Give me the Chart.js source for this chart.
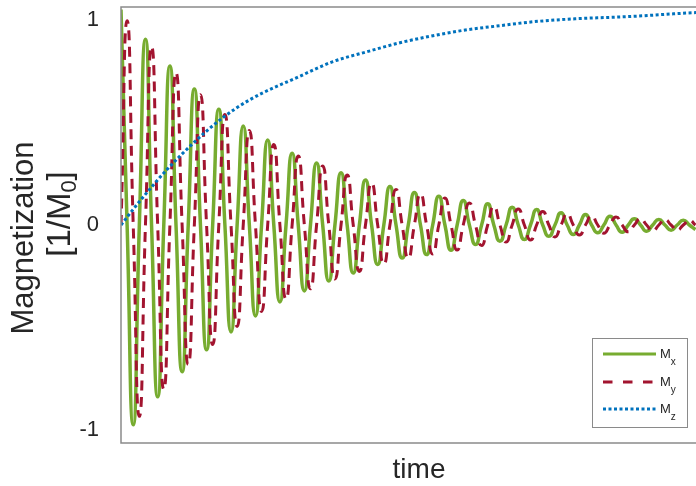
<!DOCTYPE html>
<html><head><meta charset="utf-8">
<script src="https://cdn.jsdelivr.net/npm/chart.js@4.4.1/dist/chart.umd.min.js"></script>
<style>html,body{margin:0;padding:0;background:#fff;overflow:hidden}canvas{display:block}</style>
</head><body>
<canvas id="c" width="696" height="486"></canvas>
<script>
// time in units of one precession period (quarter-period samples)
const timeQ = [0,0.25,0.5,0.75,1,1.25,1.5,1.75,2,2.25,2.5,2.75,3,3.25,3.5,3.75,4,4.25,4.5,4.75,
  5,5.25,5.5,5.75,6,6.25,6.5,6.75,7,7.25,7.5,7.75,8,8.25,8.5,8.75,9,9.25,9.5,9.75,
  10,10.25,10.5,10.75,11,11.25,11.5,11.75,12,12.25,12.5,12.75,13,13.25,13.5,13.75,14,14.25,14.5,14.75,
  15,15.25,15.5,15.75,16,16.25,16.5,16.75,17,17.25,17.5,17.75,18,18.25,18.5,18.75,19,19.25,19.5,19.75,
  20,20.25,20.5,20.75,21,21.25,21.5,21.75,22,22.25,22.5,22.75,23,23.25,23.5];
const mx = [1.05,0,-0.973,0,0.905,0,-0.837,0,0.774,0,-0.715,0,0.662,0,-0.608,0,0.564,0,-0.521,0,
  0.482,0,-0.443,0,0.414,0,-0.375,0,0.350,0,-0.321,0,0.302,0,-0.273,0,0.255,0,-0.234,0,
  0.219,0,-0.192,0,0.187,0,-0.161,0,0.158,0,-0.144,0,0.140,0,-0.123,0,0.119,0,-0.095,0,
  0.103,0,-0.079,0,0.087,0,-0.071,0,0.075,0,-0.055,0,0.060,0,-0.046,0,0.051,0,-0.038,0,
  0.043,0,-0.035,0,0.030,0,-0.030,0,0.027,0,-0.025,0,0.023,0,-0.022];
const my = [0,0.995,0,-0.932,0,0.869,0,-0.800,0,0.742,0,-0.679,0,0.635,0,-0.582,0,0.538,0,-0.494,
  0,0.460,0,-0.421,0,0.392,0,-0.360,0,0.336,0,-0.311,0,0.287,0,-0.263,0,0.243,0,-0.226,
  0,0.204,0,-0.190,0,0.173,0,-0.161,0,0.151,0,-0.141,0,0.131,0,-0.122,0,0.107,0,-0.100,
  0,0.090,0,-0.083,0,0.078,0,-0.073,0,0.066,0,-0.058,0,0.054,0,-0.049,0,0.044,0,-0.040,
  0,0.039,0,-0.033,0,0.030,0,-0.028,0,0.026,0,-0.024,0,0.022,0];
const timeZ = [0,0.49,1.06,1.88,3.11,4.17,5.28,7.32,8.67,10.06,11.41,12.76,14.15,15.50,16.85,18.65,20.70,23.39,23.6];
const mz = [0,0.075,0.158,0.27,0.416,0.523,0.611,0.725,0.796,0.844,0.888,0.922,0.951,0.971,0.990,1.005,1.015,1.034,1.035];
const yTickValues = [-1,0,1];
const legendNames = ['M','M','M'];
const legendSubs = ['x','y','z'];

const FONT = '"Liberation Sans", Arial, sans-serif';
const TXT = '#262626';
const toXY = (xs, ys) => xs.map((x, i) => ({x: x, y: ys[i]}));

const decor = {
  id: 'decor',
  afterDraw(chart) {
    const ctx = chart.ctx, a = chart.chartArea;
    ctx.save();
    ctx.strokeStyle = '#8a8a8a'; ctx.lineWidth = 1.5; ctx.setLineDash([]);
    ctx.beginPath();
    ctx.moveTo(a.right + 5, a.top); ctx.lineTo(a.left, a.top); ctx.lineTo(a.left, a.bottom); ctx.lineTo(a.right + 5, a.bottom);
    ctx.stroke();
    ctx.fillStyle = TXT; ctx.textAlign = 'center'; ctx.textBaseline = 'alphabetic';
    ctx.font = '28px ' + FONT;
    ctx.fillText('time', 419, 478);
    ctx.save();
    ctx.translate(33, 238); ctx.rotate(-Math.PI / 2);
    ctx.font = '31px ' + FONT;
    ctx.fillText('Magnetization', 0, 0);
    ctx.restore();
    ctx.save();
    ctx.translate(70, 214); ctx.rotate(-Math.PI / 2);
    ctx.textAlign = 'left';
    const big = '33px ' + FONT, small = '22px ' + FONT;
    ctx.font = big; const w1 = ctx.measureText('[1/M').width, w3 = ctx.measureText(']').width;
    ctx.font = small; const w2 = ctx.measureText('0').width;
    let x0 = -(w1 + w2 + w3) / 2;
    ctx.font = big; ctx.fillText('[1/M', x0, 0);
    ctx.font = small; ctx.fillText('0', x0 + w1, 6);
    ctx.font = big; ctx.fillText(']', x0 + w1 + w2, 0);
    ctx.restore();
    const order = [2, 1, 0];
    const rows = [354, 382, 409];
    ctx.fillStyle = '#fff'; ctx.fillRect(592, 338, 95, 89);
    ctx.strokeStyle = '#8a8a8a'; ctx.lineWidth = 1; ctx.strokeRect(592.5, 338.5, 95, 89);
    order.forEach((di, r) => {
      const ds = chart.data.datasets[di];
      ctx.strokeStyle = ds.borderColor; ctx.lineWidth = 3;
      ctx.setLineDash(r === 1 ? [9.5, 10.5] : (ds.borderDash || []));
      ctx.beginPath(); ctx.moveTo(603, rows[r]); ctx.lineTo(656, rows[r]); ctx.stroke();
      ctx.setLineDash([]);
      ctx.fillStyle = TXT; ctx.textAlign = 'left';
      ctx.font = '13px ' + FONT;
      ctx.fillText(legendNames[r], 660, rows[r] + 4);
      const wm = ctx.measureText(legendNames[r]).width;
      ctx.font = '10px ' + FONT;
      ctx.fillText(legendSubs[r], 660 + wm, rows[r] + 11);
    });
    ctx.restore();
  }
};

new Chart(document.getElementById('c').getContext('2d'), {
  type: 'line',
  data: {
    datasets: [
      {label: 'Mz', data: toXY(timeZ, mz), borderColor: '#0072BD', borderWidth: 3, borderDash: [3, 2.5],
       pointRadius: 0, cubicInterpolationMode: 'monotone', fill: false, order: 0},
      {label: 'My', data: toXY(timeQ, my), borderColor: '#A2142F', borderWidth: 3, borderDash: [10, 6.5],
       pointRadius: 0, tension: 0.58, fill: false, order: 1},
      {label: 'Mx', data: toXY(timeQ, mx), borderColor: '#77AC30', borderWidth: 3.5,
       pointRadius: 0, tension: 0.58, fill: false, order: 2}
    ]
  },
  options: {
    responsive: false, animation: false, devicePixelRatio: 1,
    layout: {padding: {top: 7, right: 0, left: 0, bottom: 0}},
    plugins: {legend: {display: false}, tooltip: {enabled: false}},
    scales: {
      x: {type: 'linear', min: 0, max: 23.52,
          grid: {display: false, drawTicks: false}, border: {display: false},
          ticks: {display: false},
          afterFit(s) { s.height = 43; s.paddingLeft = 0; s.paddingRight = 0; }},
      y: {type: 'linear', min: -1.062, max: 1.062,
          grid: {display: false, drawTicks: false}, border: {display: false},
          ticks: {font: {family: FONT, size: 22}, color: TXT, padding: 22},
          afterBuildTicks(s) { s.ticks = yTickValues.map(v => ({value: v})); },
          afterFit(s) { s.width = 121; s.paddingTop = 0; s.paddingBottom = 0; }}
    }
  },
  plugins: [decor]
});
</script>
</body></html>
